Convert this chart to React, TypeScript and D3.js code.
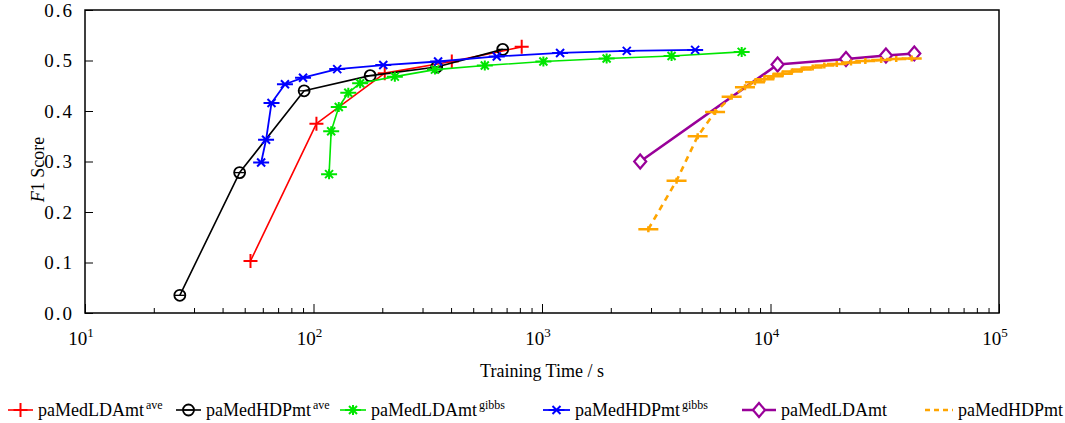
import React, { useEffect, useRef } from 'react';
import * as d3 from 'd3';

// training time (s) and F1 score
const redTime = [53, 103, 205, 403, 815];
const redF1 = [0.103, 0.375, 0.475, 0.498, 0.527];

const blackTime = [26, 47.5, 91, 177, 346, 673];
const blackF1 = [0.035, 0.278, 0.44, 0.47, 0.487, 0.522];

const greenTime = [117, 119.5, 129, 142, 160, 227, 340, 562, 1014, 1918, 3690, 7480];
const greenF1 = [0.275, 0.36, 0.408, 0.436, 0.455, 0.468, 0.482, 0.49, 0.498, 0.504, 0.509, 0.517];

const blueTime = [59, 62, 65.5, 75, 90, 127, 202, 351, 634, 1200, 2350, 4680];
const blueF1 = [0.298, 0.343, 0.416, 0.453, 0.466, 0.483, 0.491, 0.498, 0.508, 0.515, 0.519, 0.521];

const purpleTime = [2690, 10740, 21400, 32000, 42600];
const purpleF1 = [0.3, 0.492, 0.503, 0.51, 0.514];

const orangeTime = [2920, 3880, 4800, 5720, 6760, 7730, 8550, 9400, 10300, 11300, 12400, 13700, 15300, 17200, 19500, 22500, 26000, 30500, 35500, 41500];
const orangeF1 = [0.166, 0.262, 0.35, 0.398, 0.428, 0.447, 0.457, 0.463, 0.469, 0.474, 0.478, 0.482, 0.486, 0.49, 0.493, 0.496, 0.499, 0.501, 0.503, 0.504];

const yTicks = [0, 0.1, 0.2, 0.3, 0.4, 0.5, 0.6];
const xTickExps = [1, 2, 3, 4, 5];

const seriesNames = ['paMedLDAmt', 'paMedHDPmt', 'paMedLDAmt', 'paMedHDPmt', 'paMedLDAmt', 'paMedHDPmt'];
const seriesSups = ['ave', 'ave', 'gibbs', 'gibbs', '', ''];

const FONT = 'Liberation Serif, Times New Roman, Tinos, serif';

function App() {
  const ref = useRef<SVGSVGElement>(null);

  useEffect(() => {
    drawChart();
  }, []);

  function drawMarker(g: any, type: string, cx: number, cy: number, color: string) {
    const m = g.append('g').attr('transform', 'translate(' + cx + ',' + cy + ')')
      .attr('stroke', color).attr('fill', 'none');
    if (type === 'plus') {
      m.append('path').attr('d', 'M-7,0H7M0,-7V7').attr('stroke-width', 2);
    } else if (type === 'circle') {
      m.append('circle').attr('r', 5.5).attr('stroke-width', 1.8).attr('fill', 'none');
      m.append('path').attr('d', 'M-5,0H5').attr('stroke-width', 1.3);
    } else if (type === 'star') {
      m.append('path').attr('d', 'M-8,0H8M0,-5V5M-4,-4L4,4M-4,4L4,-4').attr('stroke-width', 2);
    } else if (type === 'xbar') {
      m.append('path').attr('d', 'M-8,0H8M-4,-4L4,4M-4,4L4,-4').attr('stroke-width', 2);
    } else if (type === 'diamond') {
      m.append('path').attr('d', 'M0,-7L6,0L0,7L-6,0Z').attr('stroke-width', 2.2).attr('fill', 'white');
    } else if (type === 'hbar') {
      m.append('path').attr('d', 'M-10,0H10M0,-3V3').attr('stroke-width', 2.5);
    }
  }

  function drawChart() {
    const svgWidth = 1065, svgHeight = 423;
    const margin = { top: 10, right: 66, bottom: 110, left: 85 };
    const width = svgWidth - margin.left - margin.right;
    const height = svgHeight - margin.top - margin.bottom;

    const svg = d3.select(ref.current)
      .attr('width', svgWidth)
      .attr('height', svgHeight)
      .style('font-family', FONT);
    svg.selectAll('*').remove();

    const g = svg.append('g')
      .attr('transform', 'translate(' + margin.left + ',' + margin.top + ')');

    const x = d3.scaleLog().domain([10, 1e5]).range([0, width]);
    const y = d3.scaleLinear().domain([0, 0.6]).range([height, 0]);

    // minor ticks on log axis
    const minor: number[] = [];
    for (let e = 1; e < 5; e++) {
      for (let k = 2; k <= 9; k++) minor.push(k * Math.pow(10, e));
    }

    g.append('g')
      .attr('transform', 'translate(0,' + height + ')')
      .call(d3.axisBottom(x).tickValues(minor).tickSize(-5).tickFormat(() => ''))
      .call((a: any) => a.select('.domain').remove())
      .selectAll('line').attr('stroke', '#000');

    const xAxis = g.append('g')
      .attr('transform', 'translate(0,' + height + ')')
      .call(d3.axisBottom(x).tickValues(xTickExps.map((e) => Math.pow(10, e))).tickSize(-9).tickFormat(() => ''));
    xAxis.select('.domain').remove();
    xAxis.selectAll('line').attr('stroke', '#000');

    // x tick labels with superscripts
    xTickExps.forEach((e) => {
      const t = g.append('text')
        .attr('x', x(Math.pow(10, e)) - 4)
        .attr('y', height + 32)
        .attr('text-anchor', 'middle')
        .style('font-family', FONT)
        .attr('font-size', 19);
      t.append('tspan').text('10');
      t.append('tspan').attr('dy', -8).attr('font-size', 13).text(String(e));
    });

    const yAxis = g.append('g')
      .call(d3.axisLeft(y).tickValues(yTicks).tickSize(-8).tickPadding(11).tickFormat(d3.format('.1f')));
    yAxis.select('.domain').remove();
    yAxis.selectAll('line').attr('stroke', '#000');
    yAxis.selectAll('text')
      .style('font-family', FONT)
      .attr('font-size', 19)
      .attr('letter-spacing', 2)
      .attr('fill', '#000');

    // frame
    g.append('rect')
      .attr('width', width).attr('height', height)
      .attr('fill', 'none').attr('stroke', '#000').attr('stroke-width', 1.5);

    // axis titles
    svg.append('text')
      .attr('x', margin.left + width / 2)
      .attr('y', 377)
      .attr('text-anchor', 'middle')
      .style('font-family', FONT)
      .attr('font-size', 18)
      .text('Training Time / s');

    const yt = svg.append('text')
      .attr('transform', 'translate(44,' + (margin.top + height / 2 + 8) + ') rotate(-90)')
      .attr('text-anchor', 'middle')
      .style('font-family', FONT)
      .attr('font-size', 18);
    yt.append('tspan').attr('font-style', 'italic').text('F');
    yt.append('tspan').text('1 Score');

    const series = [
      { t: redTime, f: redF1, color: '#ff0000', marker: 'plus', w: 1.6, dash: null },
      { t: blackTime, f: blackF1, color: '#000000', marker: 'circle', w: 1.6, dash: null },
      { t: greenTime, f: greenF1, color: '#00e600', marker: 'star', w: 1.6, dash: null },
      { t: blueTime, f: blueF1, color: '#0000ff', marker: 'xbar', w: 1.8, dash: null },
      { t: purpleTime, f: purpleF1, color: '#990099', marker: 'diamond', w: 2.6, dash: null },
      { t: orangeTime, f: orangeF1, color: '#ffa500', marker: 'hbar', w: 2.6, dash: '6,5' },
    ];

    series.forEach((s) => {
      const pts = s.t.map((t, i) => [x(t), y(s.f[i])] as [number, number]);
      const p = g.append('path')
        .attr('d', d3.line()(pts))
        .attr('fill', 'none')
        .attr('stroke', s.color)
        .attr('stroke-width', s.w)
        .attr('stroke-linejoin', 'round');
      if (s.dash) p.attr('stroke-dasharray', s.dash);
      pts.forEach((pt) => drawMarker(g, s.marker, pt[0], pt[1], s.color));
    });

    // legend
    const legendX = [8, 176, 340, 543, 742, 925];
    const legendLen = [25, 25, 26, 27, 34, 28];
    const ly = 410;
    series.forEach((s, i) => {
      const lg = svg.append('g');
      const x0 = legendX[i];
      const x1 = x0 + legendLen[i];
      const l = lg.append('line')
        .attr('x1', x0).attr('x2', x1).attr('y1', ly).attr('y2', ly)
        .attr('stroke', s.color).attr('stroke-width', s.w);
      if (s.dash) l.attr('stroke-dasharray', '5,4');
      else drawMarker(lg, s.marker, (x0 + x1) / 2, ly, s.color);
      const t = lg.append('text')
        .attr('x', x1 + 5)
        .attr('y', ly + 6)
        .style('font-family', FONT)
        .attr('font-size', 18);
      t.append('tspan').text(seriesNames[i]);
      if (seriesSups[i]) {
        t.append('tspan').attr('dx', 2).attr('dy', -7).attr('font-size', 12).text(seriesSups[i]);
      }
    });
  }

  return (
    <div style={{ position: 'absolute', left: 0, top: 0 }}>
      <svg ref={ref}></svg>
    </div>
  );
}

export default App;
